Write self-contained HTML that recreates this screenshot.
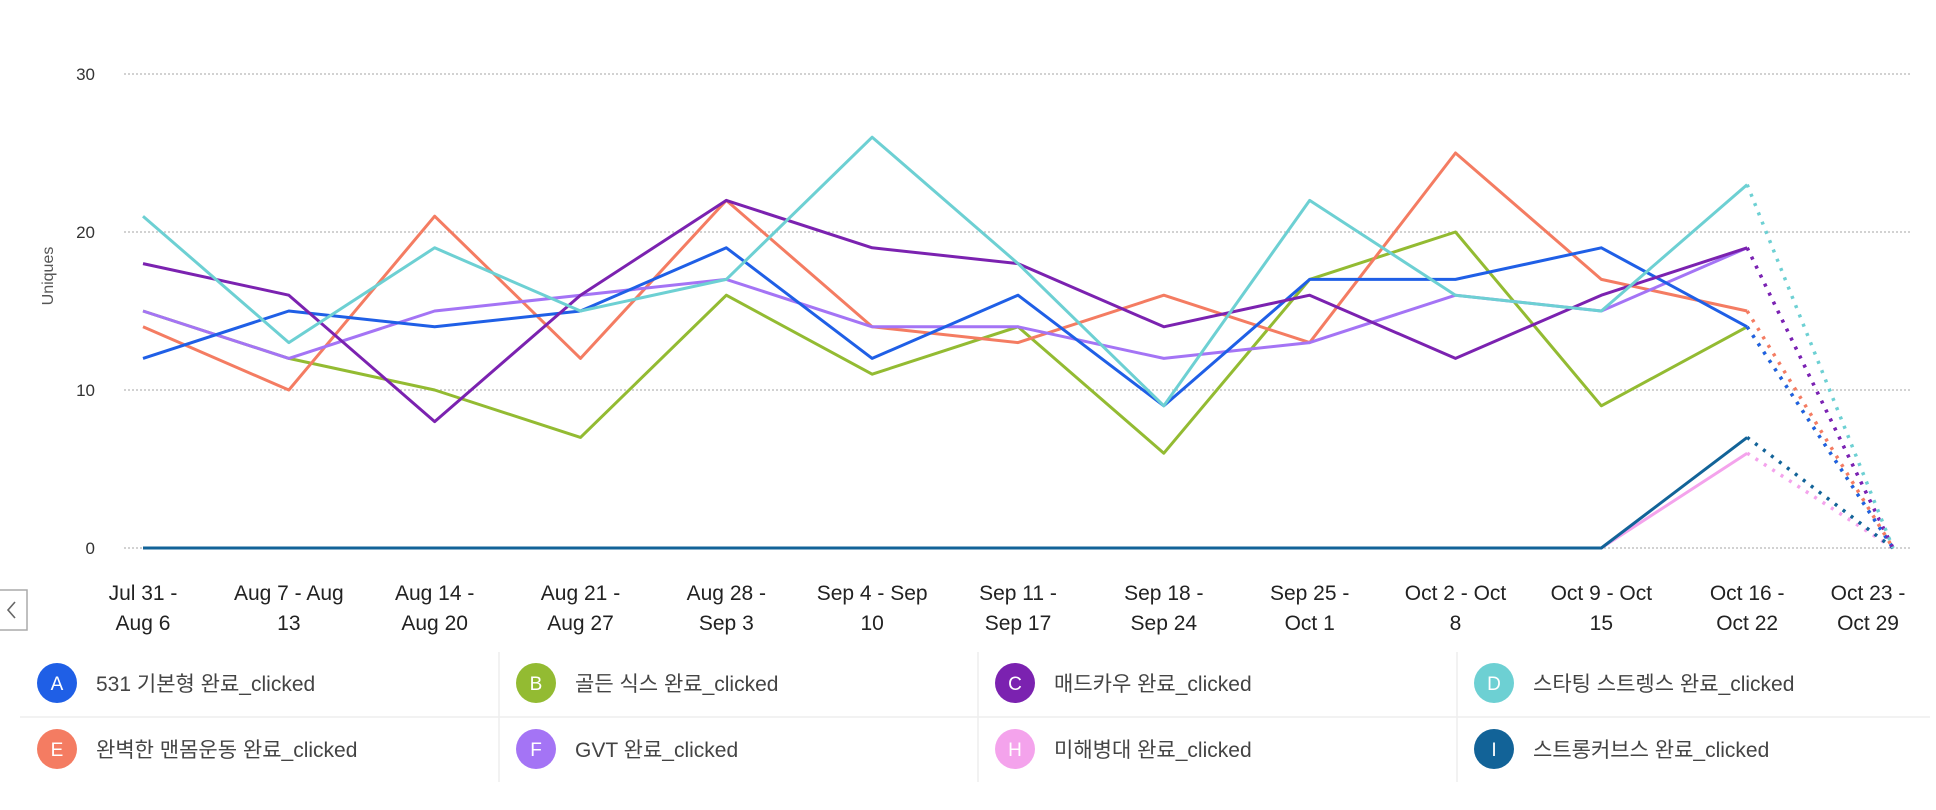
<!DOCTYPE html>
<html><head><meta charset="utf-8">
<style>
body{margin:0;background:#fff;width:1936px;height:810px;overflow:hidden;font-family:"Liberation Sans","Noto Sans CJK KR",sans-serif;}
svg{position:absolute;left:0;top:0}
</style></head>
<body>
<svg id="chart" width="1936" height="810"></svg>
<script>
const categories=[["Jul 31 -","Aug 6"],["Aug 7 - Aug","13"],["Aug 14 -","Aug 20"],["Aug 21 -","Aug 27"],["Aug 28 -","Sep 3"],["Sep 4 - Sep","10"],["Sep 11 -","Sep 17"],["Sep 18 -","Sep 24"],["Sep 25 -","Oct 1"],["Oct 2 - Oct","8"],["Oct 9 - Oct","15"],["Oct 16 -","Oct 22"],["Oct 23 -","Oct 29"]];
const yTicks=[0,10,20,30];
const seriesNames=["531 기본형 완료_clicked","골든 식스 완료_clicked","매드카우 완료_clicked","스타팅 스트렝스 완료_clicked","완벽한 맨몸운동 완료_clicked","GVT 완료_clicked","미해병대 완료_clicked","스트롱커브스 완료_clicked"];
const seriesLetters=["A","B","C","D","E","F","H","I"];
const seriesColors=["#1f5fe6","#93bb32","#7b22b0","#6dd0d3","#f47c62","#a474f5","#f4a3ec","#126398"];
const sA=[12,15,14,15,19,12,16,9,17,17,19,14,0];
const sB=[15,12,10,7,16,11,14,6,17,20,9,14,0];
const sC=[18,16,8,16,22,19,18,14,16,12,16,19,0];
const sD=[21,13,19,15,17,26,18,9,22,16,15,23,0];
const sE=[14,10,21,12,22,14,13,16,13,25,17,15,0];
const sF=[15,12,15,16,17,14,14,12,13,16,15,19,0];
const sH=[0,0,0,0,0,0,0,0,0,0,0,6,0];
const sI=[0,0,0,0,0,0,0,0,0,0,0,7,0];
const series=[sA,sB,sC,sD,sE,sF,sH,sI];
const drawOrder=[6,7,1,4,5,0,2,3];

const NS="http://www.w3.org/2000/svg";
const svg=document.getElementById('chart');
const x0=143,x1=1893,yBase=548,yTop=74,yMax=30;
const xS=i=>x0+(x1-x0)*i/(categories.length-1);
const yS=v=>yBase-(yBase-yTop)*v/yMax;
function mk(t,a,p){const e=document.createElementNS(NS,t);for(const k in a)e.setAttribute(k,a[k]);(p||svg).appendChild(e);return e;}

yTicks.forEach(t=>{
  const l=mk('line',{x1:124,x2:1911,y1:yS(t),y2:yS(t),stroke:'#b8b8b8','stroke-width':1.2,'stroke-dasharray':'2 2'});
  
  
  const tx=mk('text',{x:95,y:yS(t)+6,'text-anchor':'end','font-size':17,fill:'#333'});
  tx.textContent=t;
  
  
});
const yt=mk('text',{x:0,y:0,transform:'translate(53,276) rotate(-90)','text-anchor':'middle','font-size':16,fill:'#555'});
yt.textContent='Uniques';



categories.forEach((c,i)=>{
  c.forEach((s,j)=>{
    const t=mk('text',{x:Math.min(xS(i),1868),y:600+j*30,'text-anchor':'middle','font-size':21,fill:'#222'});
    t.textContent=s;
    
    
  });
});

drawOrder.forEach(si=>{
  const d=series[si],n=d.length;
  const solid=d.slice(0,n-1).map((v,i)=>(i?'L':'M')+xS(i)+' '+yS(v)).join(' ');
  const p=mk('path',{d:solid,fill:'none',stroke:seriesColors[si],'stroke-width':3,'stroke-linejoin':'round'});
  
  
  const q=mk('path',{d:'M'+xS(n-2)+' '+yS(d[n-2])+' L'+xS(n-1)+' '+yS(d[n-1]),fill:'none',stroke:seriesColors[si],'stroke-width':3.5,'stroke-dasharray':'3 7'});
  
  
});

const bb=mk('rect',{x:-1,y:590,width:28,height:40,fill:'#fff',stroke:'#aaa','stroke-width':1.5});


const bp=mk('path',{d:'M15 602 L8 610 L15 618',fill:'none',stroke:'#666','stroke-width':1.6});



const colX=[20,499,978,1457],rowY=[683,749];
mk('line',{x1:20,x2:1930,y1:717,y2:717,stroke:'#eee','stroke-width':1.5});
[499,978,1457].forEach(x=>mk('line',{x1:x,x2:x,y1:652,y2:782,stroke:'#eee','stroke-width':1.5}));
seriesNames.forEach((nm,i)=>{
  const cx=colX[i%4],cy=rowY[Math.floor(i/4)];
  const g=mk('g',{});
  
  
  mk('circle',{cx:cx+37,cy:cy,r:20,fill:seriesColors[i]},g);
  const l=mk('text',{x:cx+37,y:cy+7,'text-anchor':'middle','font-size':19,fill:'#fff'},g);
  l.textContent=seriesLetters[i];
  const t=mk('text',{x:cx+76,y:cy+8,'font-size':21,fill:'#444'},g);
  t.textContent=nm;
});
</script>
</body></html>
